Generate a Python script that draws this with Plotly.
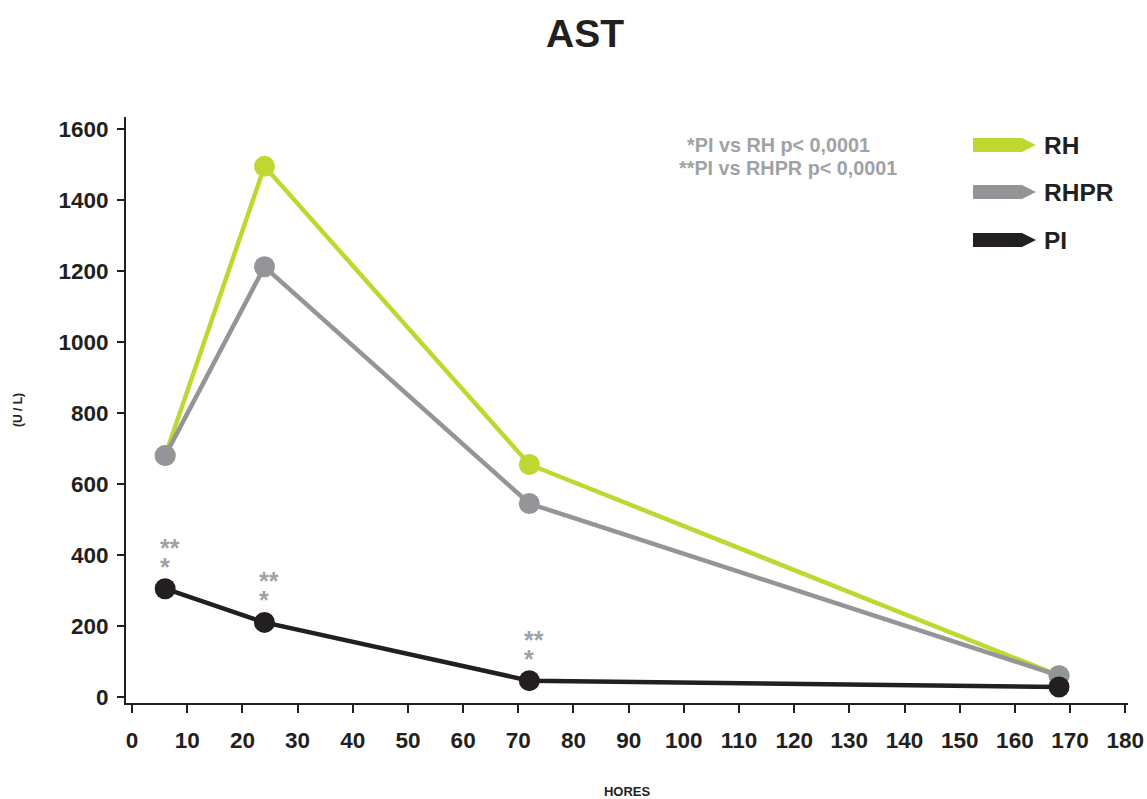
import plotly.graph_objects as go

hours = [6, 24, 72, 168]
rh = [680, 1495, 655, 60]
rhpr = [680, 1212, 545, 60]
pi = [305, 210, 46, 28]

series_names = ["RH", "RHPR", "PI"]
series_colors = ["#C0D731", "#939598", "#231F20"]
series_values = [rh, rhpr, pi]

sig_hours = [6, 24, 72]
sig_vals = [pi[0], pi[1], pi[2]]

stat_lines = ["*PI vs RH p< 0,0001", "**PI vs RHPR p< 0,0001"]

x_ticks = list(range(0, 190, 10))
y_ticks = list(range(0, 1800, 200))

FONT = "Liberation Sans, Arial, Helvetica, sans-serif"
TXT = "#231F20"
GRAY = "#A0A2A5"

W, H = 1147, 799
L, R, T, B = 126, 1128, 117, 703


def px(x):
    return (x - L) / (R - L)


def py(y):
    return (B - y) / (B - T)


fig = go.Figure()
for name, color, vals in zip(series_names, series_colors, series_values):
    fig.add_trace(go.Scatter(
        x=hours, y=vals, mode="lines+markers", name=name,
        line=dict(color=color, width=4.5),
        marker=dict(color=color, size=21, line=dict(width=0)),
        showlegend=False, cliponaxis=False,
    ))

# significance asterisks
for h, v in zip(sig_hours, sig_vals):
    fig.add_annotation(x=h, y=v, xref="x", yref="y", text="<b>**</b>",
                       showarrow=False, xanchor="left", yanchor="middle",
                       xshift=-7, yshift=41,
                       font=dict(family=FONT, size=25, color=GRAY))
    fig.add_annotation(x=h, y=v, xref="x", yref="y", text="<b>*</b>",
                       showarrow=False, xanchor="left", yanchor="middle",
                       xshift=-7, yshift=22,
                       font=dict(family=FONT, size=25, color=GRAY))

# legend drawn as arrow shapes + text
leg_y = [145, 192, 240]
for name, color, yy in zip(series_names, series_colors, leg_y):
    x0, x1, x2 = 973, 1022, 1036
    h = 7
    path = (f"M {px(x0)},{py(yy-h)} L {px(x1)},{py(yy-h)} L {px(x2)},{py(yy)} "
            f"L {px(x1)},{py(yy+h)} L {px(x0)},{py(yy+h)} Z")
    fig.add_shape(type="path", path=path, xref="paper", yref="paper",
                  fillcolor=color, line=dict(width=0))
    fig.add_annotation(x=px(1042), y=py(yy), xref="paper", yref="paper",
                       text=f"<b>{name}</b>", showarrow=False, xanchor="left", yanchor="middle",
                       font=dict(size=24.5, color=TXT, family=FONT))

for txt, cx, cy in zip(stat_lines, [778.5, 788], [145, 168]):
    fig.add_annotation(x=px(cx), y=py(cy), xref="paper", yref="paper",
                       text=f"<b>{txt}</b>",
                       showarrow=False, xanchor="center", yanchor="middle",
                       font=dict(size=19.8, color=GRAY, family=FONT))

fig.update_layout(
    width=W, height=H,
    margin=dict(l=L, r=W - R, t=T, b=H - B, autoexpand=False),
    plot_bgcolor="white", paper_bgcolor="white",
    font=dict(family=FONT, color=TXT),
    title=dict(text="<b>AST</b>", x=585 / W, xanchor="center", y=1 - 33 / H, yanchor="middle",
               xref="container", yref="container", font=dict(size=39, color=TXT, family=FONT)),
    xaxis=dict(range=[-1.1, 180.5], tickvals=x_ticks, ticktext=[f"<b>{t}</b>" for t in x_ticks],
               showgrid=False, zeroline=False, showline=True, linecolor=TXT, linewidth=2,
               ticks="outside", ticklen=8, tickwidth=2, tickcolor=TXT, automargin=False,
               tickfont=dict(size=22.5, color=TXT), ticklabelstandoff=8,
               title=dict(text="<b>HORES</b>", font=dict(size=13, color=TXT), standoff=38)),
    yaxis=dict(range=[-17, 1634], tickvals=y_ticks, ticktext=[f"<b>{t}</b>" for t in y_ticks],
               showgrid=False, zeroline=False, showline=True, linecolor=TXT, linewidth=2,
               ticks="outside", ticklen=7, tickwidth=2, tickcolor=TXT, automargin=False,
               tickfont=dict(size=22.5, color=TXT), ticklabelstandoff=4,
               title=dict(text="<b>(U / L)</b>", font=dict(size=12, color=TXT), standoff=33)),
)

fig.write_html("out.html")
